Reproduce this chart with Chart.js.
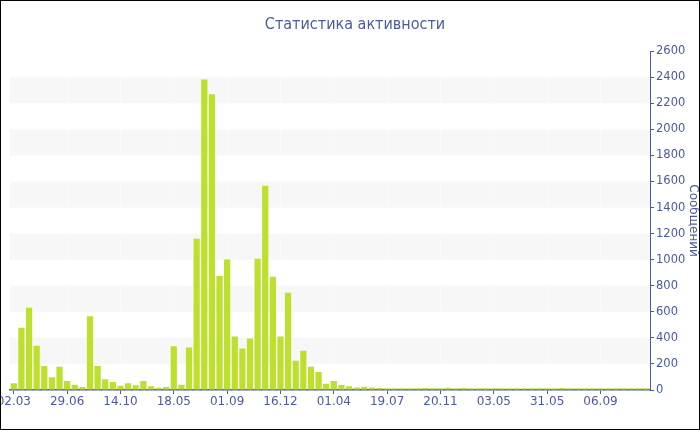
<!DOCTYPE html>
<html>
<head>
<meta charset="utf-8">
<script src="https://cdn.jsdelivr.net/npm/chart.js@4/dist/chart.umd.min.js"></script>
<style>
html,body{margin:0;padding:0;background:#fff;}
#wrap{position:relative;width:700px;height:430px;}
</style>
</head>
<body>
<div id="wrap"><canvas id="c" width="700" height="430"></canvas></div>
<script>
const titleText = "Статистика активности";
const axisTitle = "Сообщений";
const tickLabels = ["02.03","29.06","14.10","18.05","01.09","16.12","01.04","19.07","20.11","03.05","31.05","06.09"];
const tickEvery = 7;
const messages = [
  51, 477, 632, 339, 184, 97, 178, 69, 41, 23,
  566, 184, 82, 61, 33, 51, 36, 69, 28, 18,
  23, 336, 41, 326, 1160, 2383, 2269, 874, 1002, 410,
  319, 395, 1007, 1568, 869, 410, 747, 224, 301, 178,
  138, 48, 69, 38, 28, 20, 25, 20, 15, 14,
  14, 14, 14, 13, 15, 13, 14, 18, 14, 16,
  14, 13, 13, 13, 13, 14, 13, 13, 13, 13,
  13, 13, 15, 13, 13, 13, 13, 14, 13, 13, 13, 13, 13, 13
];
const categories = messages.map((v, i) => i);
const bandRanges = [[200,400],[600,800],[1000,1200],[1400,1600],[1800,2000],[2200,2400]];

const blue = '#4a5a9e';

const bandsPlugin = {
  id: 'bands',
  beforeDraw(chart) {
    const {ctx, chartArea, scales} = chart;
    const y = scales.y;
    ctx.save();
    ctx.fillStyle = '#f7f7f7';
    bandRanges.forEach(([a, b]) => {
      const y1 = y.getPixelForValue(b), y2 = y.getPixelForValue(a);
      ctx.fillRect(chartArea.left, y1, chartArea.right - chartArea.left, y2 - y1);
    });
    ctx.restore();
  },
  afterDraw(chart) {
    const ctx = chart.ctx;
    ctx.save();
    ctx.strokeStyle = '#000';
    ctx.lineWidth = 1;
    ctx.strokeRect(0.5, 0.5, chart.width - 1, chart.height - 1);
    ctx.restore();
  }
};

new Chart(document.getElementById('c'), {
  type: 'bar',
  data: {
    labels: categories,
    datasets: [{
      data: messages,
      backgroundColor: '#bde02e',
      borderWidth: 0,
      barPercentage: 0.82,
      categoryPercentage: 1.0
    }]
  },
  options: {
    responsive: false,
    animation: false,
    devicePixelRatio: 1,
    layout: {padding: {left: 10, right: 0, top: 0, bottom: 0}},
    plugins: {
      legend: {display: false},
      tooltip: {enabled: false},
      title: {
        display: true,
        text: titleText,
        color: blue,
        font: {family: 'DejaVu Sans Condensed', size: 16, weight: 'normal'},
        padding: {top: 15, bottom: 17}
      }
    },
    scales: {
      x: {
        type: 'category',
        offset: true,
        afterBuildTicks(axis) {
          axis.ticks = axis.ticks.filter(t => t.value % tickEvery === 0);
        },
        afterFit(scale) {
          scale.paddingLeft = 0;
          scale.paddingRight = 0;
          scale.height = 40;
        },
        grid: {
          display: true,
          drawOnChartArea: true,
          color: 'rgba(255,255,255,0.4)',
          tickColor: blue,
          tickLength: 4,
          offset: false
        },
        border: {display: true, color: blue, width: 1.5},
        ticks: {
          autoSkip: false,
          maxRotation: 0,
          color: blue,
          padding: 1,
          font: {family: 'DejaVu Sans', size: 12},
          callback: (value) => tickLabels[Math.round(value / tickEvery)] || ''
        }
      },
      y: {
        position: 'right',
        min: 0,
        max: 2600,
        afterFit(scale) { scale.width = 50; },
        grid: {
          drawOnChartArea: false,
          color: blue,
          tickLength: 4
        },
        border: {display: true, color: blue, width: 1},
        ticks: {
          stepSize: 200,
          color: blue,
          padding: 2,
          font: {family: 'DejaVu Sans', size: 11.5},
          callback: (value) => String(value)
        },
        title: {
          display: true,
          text: axisTitle,
          color: blue,
          font: {family: 'DejaVu Sans', size: 12},
          padding: 0
        }
      }
    }
  },
  plugins: [bandsPlugin]
});
</script>
</body>
</html>
